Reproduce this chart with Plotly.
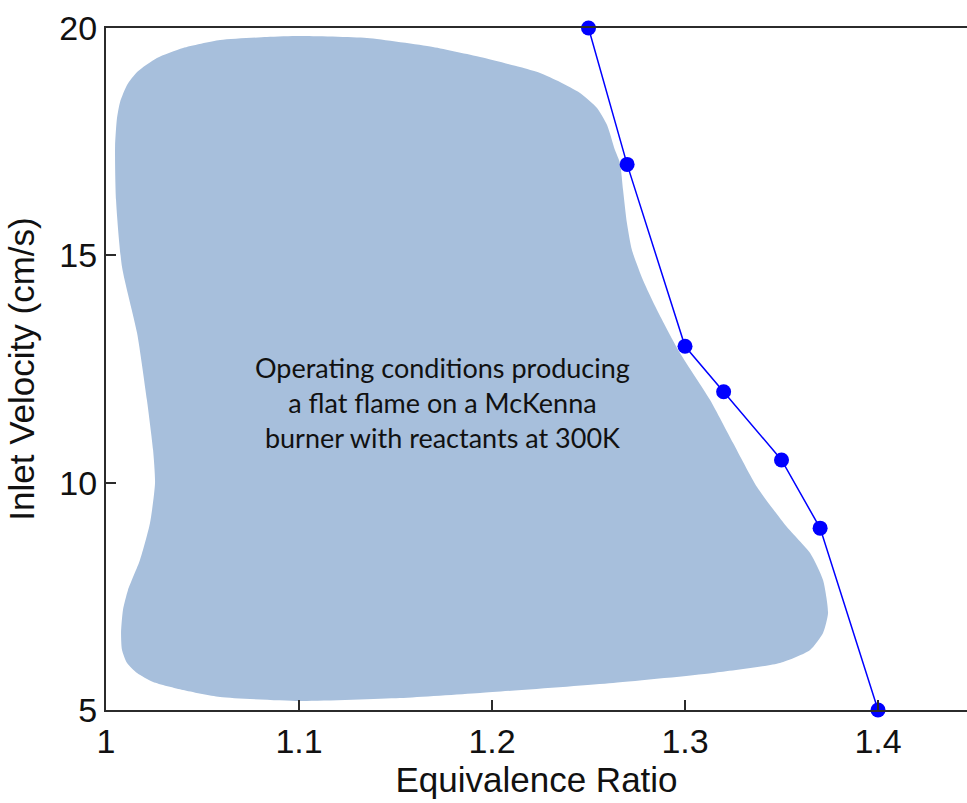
import plotly.graph_objects as go

# Blue line data (equivalence ratio, inlet velocity)
phi = [1.25, 1.27, 1.30, 1.32, 1.35, 1.37, 1.40]
vel = [20.0, 17.0, 13.0, 12.0, 10.5, 9.0, 5.0]

# Boundary of the shaded operating region (starts on the flat bottom edge)
region_x = [1.1005, 1.0591, 1.0399, 1.0244, 1.0161, 1.0109, 1.0083, 1.0078, 1.0088,
            1.0114, 1.0176, 1.0228, 1.0254, 1.0244, 1.0212, 1.0161, 1.0083, 1.0052,
            1.0047, 1.0057, 1.0073, 1.0109, 1.0161, 1.0264, 1.0399, 1.0591, 1.0834,
            1.1005, 1.1352, 1.1694, 1.1938, 1.2145, 1.2249, 1.2352, 1.2456, 1.2544,
            1.2596, 1.2637, 1.2663, 1.2679, 1.2699, 1.2725, 1.2782, 1.2855, 1.2974,
            1.3130, 1.3249, 1.3373, 1.3528, 1.3648, 1.3715, 1.3741, 1.3715, 1.3648,
            1.3492, 1.3145, 1.2627, 1.1938, 1.1523, 1.1005]
region_y = [5.200, 5.287, 5.441, 5.617, 5.815, 6.035, 6.321, 6.695, 7.200,
            7.640, 8.300, 9.114, 9.994, 10.719, 11.819, 13.292, 14.744, 16.217,
            17.400, 18.021, 18.373, 18.746, 19.032, 19.340, 19.560, 19.736, 19.802,
            19.824, 19.780, 19.582, 19.362, 19.142, 19.010, 18.812, 18.570, 18.241,
            17.867, 17.317, 17.031, 16.437, 15.711, 15.118, 14.458, 13.798, 12.852,
            11.819, 10.873, 9.906, 9.026, 8.454, 7.860, 7.134, 6.695, 6.321,
            6.035, 5.815, 5.596, 5.376, 5.265, 5.200]

x_ticks = [1.0, 1.1, 1.2, 1.3, 1.4]
x_tick_text = ["1", "1.1", "1.2", "1.3", "1.4"]
y_ticks = [5, 10, 15, 20]
y_tick_text = ["5", "10", "15", "20"]

label_text = ("Operating conditions producing<br>a flat flame on a McKenna<br>"
              "burner with reactants at 300K")
label_pos = (1.1746, 11.77)

fig = go.Figure()
fig.add_trace(go.Scatter(
    x=region_x, y=region_y, mode="lines", fill="toself",
    fillcolor="#A7BFDC", line=dict(color="#A7BFDC", width=0, shape="spline", smoothing=0.6),
    hoverinfo="skip", showlegend=False))
fig.add_trace(go.Scatter(
    x=phi, y=vel, mode="lines+markers",
    line=dict(color="#0000FF", width=1.5),
    marker=dict(color="#0000FF", size=15, symbol="circle"),
    cliponaxis=False, showlegend=False))

fig.add_annotation(x=label_pos[0], y=label_pos[1], text=label_text, showarrow=False,
                   font=dict(family="Lato", size=27, color="#111111"), align="center")

axis_common = dict(showline=True, linecolor="#2b2b2b", linewidth=2, mirror=True,
                   ticks="inside", ticklen=10, tickwidth=2, tickcolor="#2b2b2b",
                   showgrid=False, zeroline=False,
                   tickfont=dict(family="Liberation Sans", size=34, color="#111111"))

fig.update_xaxes(range=[1.0, 1.4461], tickvals=x_ticks, ticktext=x_tick_text,
                 title=dict(text="Equivalence Ratio", standoff=6,
                            font=dict(family="Liberation Sans", size=35, color="#111111")),
                 **axis_common)
fig.update_yaxes(range=[5, 20], tickvals=y_ticks, ticktext=y_tick_text,
                 title=dict(text="Inlet Velocity (cm/s)", standoff=14,
                            font=dict(family="Liberation Sans", size=35, color="#111111")),
                 **axis_common)

fig.update_layout(width=967, height=803, plot_bgcolor="white", paper_bgcolor="white",
                  margin=dict(l=106, r=0, t=28, b=93, autoexpand=False))

fig.write_html("out.html", config={"displayModeBar": False},
               post_script="document.body.style.margin='0';document.body.style.overflow='hidden';")
